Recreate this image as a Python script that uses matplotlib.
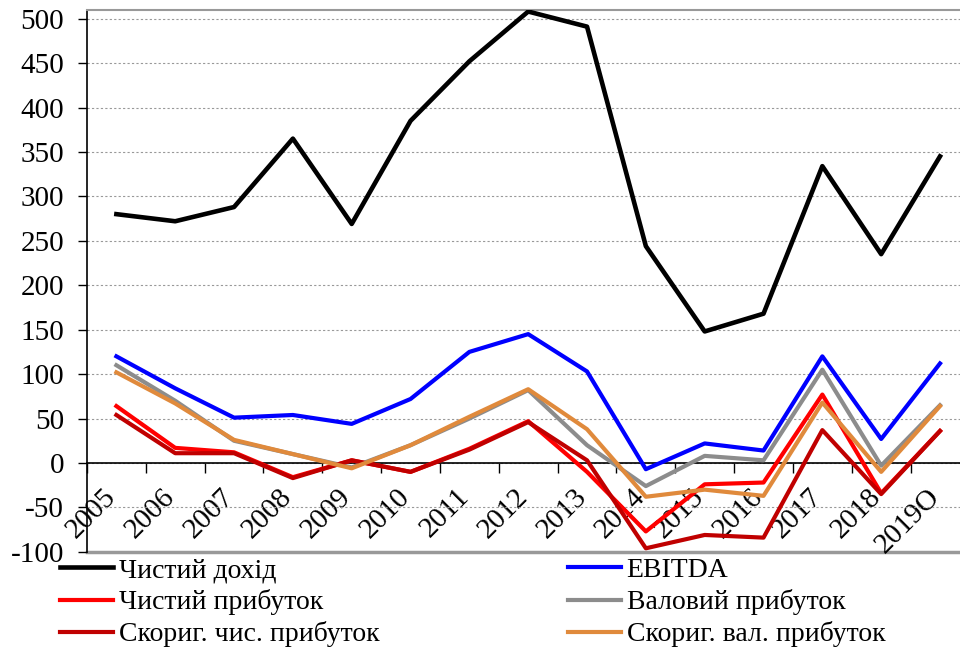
import numpy as np
import matplotlib.pyplot as plt
from matplotlib.ticker import FixedLocator, NullFormatter, FixedFormatter

plt.rcParams['font.family'] = ['Liberation Serif', 'DejaVu Serif']
plt.rcParams['axes.unicode_minus'] = False

years = ['2005', '2006', '2007', '2008', '2009', '2010', '2011', '2012',
         '2013', '2014', '2015', '2016', '2017', '2018', '2019O']

revenue = [280, 272, 288, 365, 269, 385, 452, 508, 491, 244, 148, 168, 334, 235, 345]
ebitda = [120, 84, 51, 54, 44, 72, 125, 145, 103, -7, 22, 14, 120, 27, 112]
net_profit = [64, 17, 12, -16, 3, -10, 16, 47, -10, -77, -24, -22, 77, -34, 36]
gross_profit = [110, 70, 25, 10, -5, 20, 50, 82, 20, -26, 8, 3, 105, -3, 65]
adj_net = [54, 11, 11, -17, 3, -10, 15, 46, 3, -96, -81, -84, 37, -35, 36]
adj_gross = [102, 67, 26, 10, -6, 20, 52, 83, 38, -38, -30, -37, 68, -10, 64]

x = np.arange(len(years))

fig = plt.figure(figsize=(9.6, 6.5), dpi=100)
ax = fig.add_axes([0.0906, 0.151, 0.9094, 0.834])

l1, = ax.plot(x, revenue, color='black', lw=3.3, label='Чистий дохід', zorder=6)
l2, = ax.plot(x, ebitda, color='#0000FF', lw=3, label='EBITDA', zorder=5)
l3, = ax.plot(x, net_profit, color='#FF0000', lw=3, label='Чистий прибуток', zorder=3)
l4, = ax.plot(x, gross_profit, color='#8C8C8C', lw=3, label='Валовий прибуток', zorder=3)
l5, = ax.plot(x, adj_net, color='#C00000', lw=3, label='Скориг. чис. прибуток', zorder=4)
l6, = ax.plot(x, adj_gross, color='#E08A3C', lw=3, label='Скориг. вал. прибуток', zorder=4)

ax.set_xlim(-0.5, 14.34)
ax.set_ylim(-100, 510)
ax.set_yticks(np.arange(-100, 501, 50))
ax.yaxis.grid(True, color='#999999', linestyle=(0, (2, 2)), lw=0.8)
ax.tick_params(axis='y', labelsize=21, direction='out', length=6.5, width=1, pad=10)

# x axis at zero, ticks at category boundaries, labels at centers
ax.spines['bottom'].set_position(('data', 0))
ax.spines['bottom'].set_linewidth(1.2)
ax.xaxis.set_major_locator(FixedLocator(np.arange(-0.5, 15, 1)))
ax.xaxis.set_major_formatter(NullFormatter())
ax.xaxis.set_minor_locator(FixedLocator(x + 0.08))
ax.xaxis.set_minor_formatter(FixedFormatter(years))
ax.tick_params(axis='x', which='major', direction='out', length=7, width=1)
ax.tick_params(axis='x', which='minor', length=0, labelsize=21, pad=15)
for lab in ax.xaxis.get_minorticklabels():
    lab.set_rotation(45)
    lab.set_ha('right')
    lab.set_va('top')

ax.spines['right'].set_visible(False)
ax.spines['top'].set_color('#999999')
ax.spines['top'].set_linewidth(1.5)
ax.spines['left'].set_linewidth(1.2)
ax.axhline(-100, color='#999999', lw=2.5, clip_on=False, zorder=1)

fig.legend(handles=[l1, l3, l5, l2, l4, l6], ncol=2, loc='upper left',
           bbox_to_anchor=(0.063, 0.142), frameon=False, fontsize=20,
           handlelength=1.9, handletextpad=0.2, columnspacing=6.8,
           labelspacing=0.22, borderaxespad=0, borderpad=0)

fig.savefig('out.png', dpi=100)
